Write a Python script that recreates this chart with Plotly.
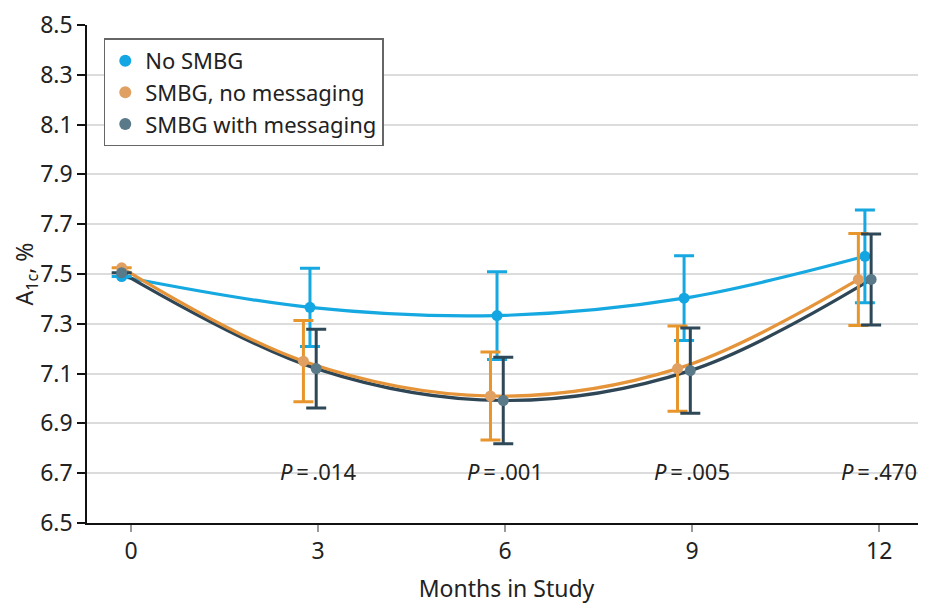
import plotly.graph_objects as go

# ---- data ----
months = [0, 3, 6, 9, 12]
series_names = ["No SMBG", "SMBG, no messaging", "SMBG with messaging"]
no_smbg = [7.49, 7.366, 7.333, 7.403, 7.571]
no_smbg_err = [0.0, 0.157, 0.176, 0.170, 0.186]
smbg_no_msg = [7.525, 7.150, 7.010, 7.120, 7.478]
smbg_no_msg_err = [0.0, 0.163, 0.177, 0.171, 0.185]
smbg_msg = [7.505, 7.120, 6.992, 7.112, 7.478]
smbg_msg_err = [0.0, 0.158, 0.174, 0.171, 0.183]
p_labels = ["", "<i>P</i>\u2009=\u2009.014", "<i>P</i>\u2009=\u2009.001",
            "<i>P</i>\u2009=\u2009.005", "<i>P</i>\u2009=\u2009.470"]
y_ticks = [6.5, 6.7, 6.9, 7.1, 7.3, 7.5, 7.7, 7.9, 8.1, 8.3, 8.5]

# ---- styling ----
FONT = "Noto Sans"
line_colors = ["#16a8e0", "#e5943a", "#2e4656"]
marker_colors = ["#14a6e2", "#e0a062", "#5a7a8a"]
err_colors = ["#16a8e0", "#e8952c", "#2e4858"]
series_offset = [-0.13, -0.235, -0.03]
month_shift = [0.0, 0.0, 0.0, 0.0, -0.1]

ys = [no_smbg, smbg_no_msg, smbg_msg]
errs = [no_smbg_err, smbg_no_msg_err, smbg_msg_err]


def xpos(i):
    out = []
    for j, m in enumerate(months):
        if m == 0:
            out.append(m - 0.15)
        else:
            out.append(m + series_offset[i] + month_shift[j])
    return out


fig = go.Figure()

# lines (blue, dark, orange so orange sits on top of dark)
for i in [0, 2, 1]:
    fig.add_trace(go.Scatter(
        x=xpos(i), y=ys[i], mode="lines",
        line=dict(color=line_colors[i], width=3.2, shape="spline", smoothing=1.0),
        showlegend=False, hoverinfo="skip"))

# markers + error bars
for i in [0, 1, 2]:
    fig.add_trace(go.Scatter(
        x=xpos(i), y=ys[i], mode="markers", name=series_names[i],
        marker=dict(color=marker_colors[i], size=11),
        error_y=dict(type="data", array=errs[i], visible=True,
                     color=err_colors[i], thickness=3, width=10),
        showlegend=True))

for m, t in zip(months, p_labels):
    if t:
        fig.add_annotation(x=m, y=6.71, text=t, showarrow=False,
                           xanchor="center", yanchor="middle",
                           font=dict(family=FONT, size=22, color="#222222"))

# page body has an 8px margin, so the figure is sized to fit the window
fig.update_layout(
    width=918, height=596,
    margin=dict(l=79, r=0, t=12, b=81),
    plot_bgcolor="white", paper_bgcolor="white",
    font=dict(family=FONT, size=21, color="#222222"),
    legend=dict(x=0.02, y=0.973, xanchor="left", yanchor="top",
                bgcolor="white", bordercolor="#666666", borderwidth=1.5,
                font=dict(family=FONT, size=22, color="#222222"),
                itemsizing="constant", tracegroupgap=0),
    showlegend=True,
)

fig.update_xaxes(
    range=[-0.706, 12.75], tickmode="array", tickvals=months,
    ticktext=[str(m) for m in months],
    showgrid=False, zeroline=False,
    showline=True, linecolor="#111111", linewidth=1.5,
    ticks="outside", ticklen=7, tickcolor="#999999", tickwidth=1.5,
    tickfont=dict(family=FONT, size=23, color="#222222"),
    ticklabeloverflow="allow",
    title=dict(text="Months in Study", standoff=19,
               font=dict(family=FONT, size=23, color="#222222")),
)

fig.update_yaxes(
    range=[6.5, 8.5], tickmode="array", tickvals=y_ticks,
    ticktext=[f"{v:.1f}" for v in y_ticks],
    showgrid=True, gridcolor="#dcdcdc", gridwidth=2, zeroline=False,
    showline=True, linecolor="#111111", linewidth=1.5,
    ticks="outside", ticklen=8, tickcolor="#111111", tickwidth=1.5,
    tickfont=dict(family=FONT, size=23, color="#222222"),
    ticklabeloverflow="allow",
    title=dict(text="A<sub>1c</sub>, %", standoff=6,
               font=dict(family=FONT, size=23, color="#222222")),
)

fig.write_html("out.html")
